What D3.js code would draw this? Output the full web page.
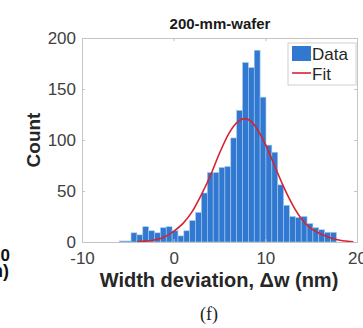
<!DOCTYPE html>
<html>
<head>
<meta charset="utf-8">
<script src="https://cdn.jsdelivr.net/npm/d3@7"></script>
<style>
  body { margin: 0; background: #fff; }
  svg { display: block; font-family: "Liberation Sans", Arial, sans-serif; }
</style>
</head>
<body>
<script>
// histogram of width deviation (nm), 200-mm wafer
const binStart = -5.93;
const binWidth = 0.64;
const counts = [1, 1, 9, 7, 15, 11, 9, 14, 15, 11, 6, 11, 21, 29, 48, 68, 68, 73, 74, 102,
  129, 176, 171, 188, 142, 95, 88, 56, 36, 25, 24, 25, 18, 14, 12, 9.5, 9.5];

// gaussian fit curve
const fitX = [-4, -3, -2, -1, 0, 1, 2, 3, 4, 5, 6, 7, 7.7, 8.5, 9, 10, 11, 12, 13, 14, 15, 16, 17, 18, 19, 19.6];
const fitY = [0.3, 0.9, 2.2, 5, 10.5, 18, 29.5, 46, 65, 87, 106, 118, 121, 118, 112, 96, 75, 54, 36, 22, 13, 8, 4.5, 2, 0.7, 0.3];

const xTicks = [-10, 0, 10, 20];
const yTicks = [0, 50, 100, 150, 200];

const W = 363, H = 328;
const m = {left: 82, right: 6, top: 38, bottom: 86};
const pw = W - m.left - m.right, ph = H - m.top - m.bottom;

const svg = d3.select("body").append("svg")
  .attr("width", W)
  .attr("height", H);

const x = d3.scaleLinear().domain([-10, 20]).range([m.left, m.left + pw]);
const y = d3.scaleLinear().domain([0, 200]).range([m.top + ph, m.top]);

const g = svg.append("g");

// bars
g.selectAll("rect.bar")
  .data(counts)
  .join("rect")
  .attr("class", "bar")
  .attr("x", (d, i) => x(binStart + i * binWidth))
  .attr("width", (d, i) => x(binStart + (i + 1) * binWidth) - x(binStart + i * binWidth))
  .attr("y", d => y(d))
  .attr("height", d => y(0) - y(d))
  .attr("fill", "#3179d0")
  .attr("stroke", "#a9c8ee")
  .attr("stroke-width", 0.6);

// fit line
const line = d3.line()
  .x((d, i) => x(fitX[i]))
  .y(d => y(d))
  .curve(d3.curveMonotoneX);

g.append("path")
  .datum(fitY)
  .attr("d", line)
  .attr("fill", "none")
  .attr("stroke", "#d52332")
  .attr("stroke-width", 1.6);

// axes
const axisColor = "#c4c4c4";
const tickColor = "#404040";
const plain = d => String(d);   // keep the plain hyphen for negatives

const xAxis = svg.append("g")
  .attr("transform", `translate(0,${m.top + ph})`)
  .call(d3.axisBottom(x).tickValues(xTicks).tickFormat(plain).tickSizeInner(-3).tickSizeOuter(0).tickPadding(10));
const xAxisTop = svg.append("g")
  .attr("transform", `translate(0,${m.top})`)
  .call(d3.axisTop(x).tickValues(xTicks).tickSizeInner(-3).tickSizeOuter(0).tickFormat(""));
const yAxis = svg.append("g")
  .attr("transform", `translate(${m.left},0)`)
  .call(d3.axisLeft(y).tickValues(yTicks).tickFormat(plain).tickSizeInner(-3).tickSizeOuter(0).tickPadding(6));
const yAxisRight = svg.append("g")
  .attr("transform", `translate(${m.left + pw},0)`)
  .call(d3.axisRight(y).tickValues(yTicks).tickSizeInner(-3).tickSizeOuter(0).tickFormat(""));

[xAxis, xAxisTop, yAxis, yAxisRight].forEach(a => {
  a.select(".domain").remove();
  a.selectAll(".tick line").attr("stroke", axisColor);
  a.selectAll(".tick text")
    .attr("fill", tickColor)
    .attr("font-size", 17)
    .attr("font-family", "Liberation Sans, Arial, sans-serif");
});

svg.append("rect")
  .attr("x", m.left + 0.5)
  .attr("y", m.top + 0.5)
  .attr("width", pw)
  .attr("height", ph)
  .attr("fill", "none")
  .attr("stroke", axisColor);

// title + labels
svg.append("text")
  .attr("x", 220).attr("y", 29)
  .attr("text-anchor", "middle")
  .attr("font-size", 15).attr("font-weight", "bold")
  .attr("fill", "#1a1a1a")
  .text("200-mm-wafer");

svg.append("text")
  .attr("transform", "translate(40,140) rotate(-90)")
  .attr("text-anchor", "middle")
  .attr("font-size", 19).attr("font-weight", "bold")
  .attr("fill", "#262626")
  .text("Count");

svg.append("text")
  .attr("x", 219).attr("y", 287)
  .attr("text-anchor", "middle")
  .attr("font-size", 20).attr("font-weight", "bold")
  .attr("fill", "#262626")
  .text("Width deviation, \u0394w (nm)");

svg.append("text")
  .attr("x", 209).attr("y", 320)
  .attr("text-anchor", "middle")
  .attr("font-size", 18)
  .attr("font-family", "Liberation Serif, Times New Roman, serif")
  .attr("fill", "#222")
  .text("(f)");

// bits of the neighbouring panel at the left edge
svg.append("text")
  .attr("x", 10).attr("y", 261)
  .attr("text-anchor", "end")
  .attr("font-size", 17).attr("font-weight", "bold")
  .attr("fill", "#111")
  .text("20");
svg.append("text")
  .attr("x", 9).attr("y", 277)
  .attr("text-anchor", "end")
  .attr("font-size", 18).attr("font-weight", "bold")
  .attr("fill", "#111")
  .text("(nm)");

// legend
const lg = svg.append("g").attr("transform", "translate(288,43)");
lg.append("rect")
  .attr("width", 68).attr("height", 42)
  .attr("fill", "#fff")
  .attr("stroke", "#cfcfcf");
lg.append("rect")
  .attr("x", 4).attr("y", 3).attr("width", 19).attr("height", 15)
  .attr("fill", "#3179d0");
lg.append("text")
  .attr("x", 24).attr("y", 17)
  .attr("font-size", 17).attr("fill", "#262626")
  .text("Data");
lg.append("line")
  .attr("x1", 4).attr("x2", 23).attr("y1", 30).attr("y2", 30)
  .attr("stroke", "#d52332").attr("stroke-width", 1.6);
lg.append("text")
  .attr("x", 24).attr("y", 37)
  .attr("font-size", 17).attr("fill", "#262626")
  .text("Fit");
</script>
</body>
</html>
